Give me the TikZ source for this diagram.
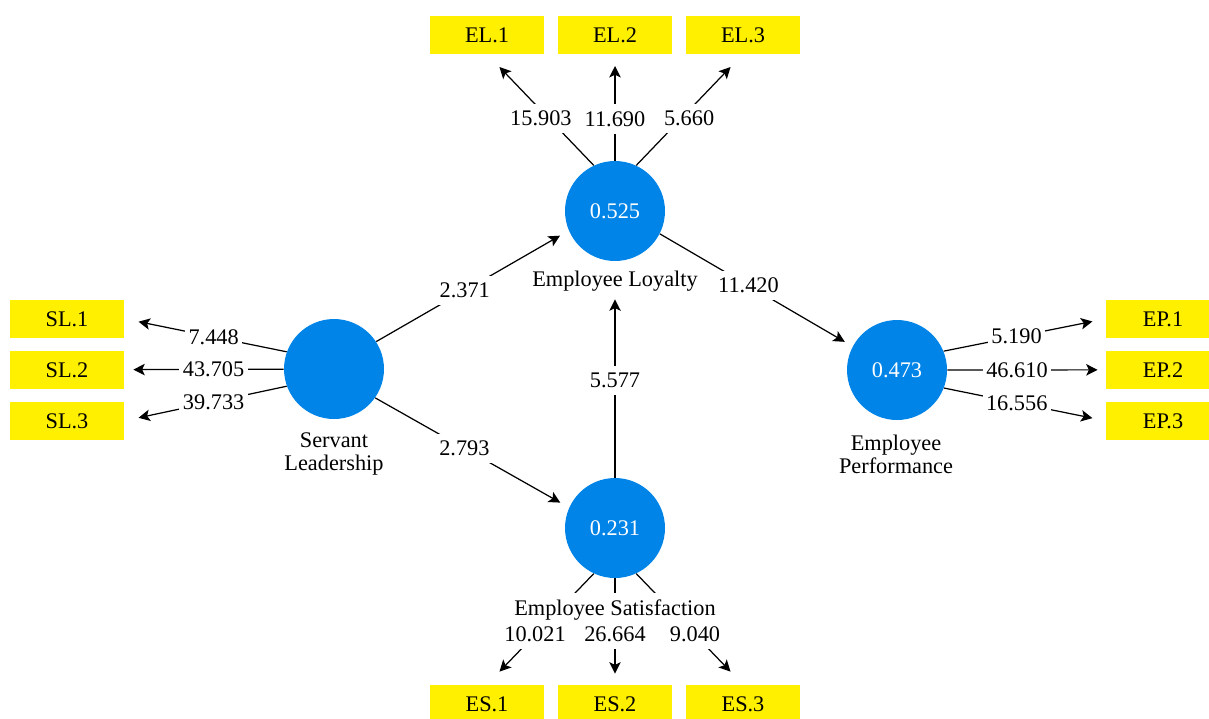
\documentclass[tikz,border=0pt]{standalone}
\usepackage{fontspec}
\setmainfont{Liberation Serif}
\usepackage{xcolor}
\usetikzlibrary{arrows.meta}
\definecolor{plsblue}{RGB}{0,132,232}
\definecolor{plsyellow}{RGB}{255,240,0}

\begin{document}
\begin{tikzpicture}[x=0.02cm, y=-0.02cm, font=\fontsize{12.7}{13.2}\selectfont,
	lv/.style={circle, fill=plsblue, minimum size=2cm, inner sep=0pt, text=white},
	mv/.style={rectangle, fill=plsyellow, minimum width=2.28cm, minimum height=0.754cm, inner sep=0pt},
	lbl/.style={fill=white, inner xsep=2pt, inner ysep=4pt},
	lvname/.style={fill=white, inner xsep=1pt, inner ysep=4pt, align=center},
	pth/.style={line width=0.7pt, -{Stealth[length=6.5pt, width=6.5pt, inset=1.5pt]}}]
	\useasboundingbox (0,0) rectangle (1209,718);
	\clip (0,0) rectangle (1209,718);
	% latent variables
	\node[lv] (el) at (615,211) {0.525};
	\node[lv] (sl) at (334,369) {};
	\node[lv] (ep) at (897,370) {0.473};
	\node[lv] (es) at (615,528) {0.231};
	% indicators
	\node[mv] (el1) at (487,34.8) {EL.1};
	\node[mv] (el2) at (615,34.8) {EL.2};
	\node[mv] (el3) at (743,34.8) {EL.3};
	\node[mv] (sl1) at (67,318.8) {SL.1};
	\node[mv] (sl2) at (67,369.8) {SL.2};
	\node[mv] (sl3) at (67,420.8) {SL.3};
	\node[mv] (ep1) at (1163,318.8) {EP.1};
	\node[mv] (ep2) at (1163,369.8) {EP.2};
	\node[mv] (ep3) at (1163,420.8) {EP.3};
	\node[mv] (es1) at (487,703.8) {ES.1};
	\node[mv] (es2) at (615,703.8) {ES.2};
	\node[mv] (es3) at (743,703.8) {ES.3};
	% outer loadings
	\draw[pth, shorten >=0.36cm] (el.115) -- (el1.south) node[lbl, pos=0.42, xshift=-0.16cm] {15.903};
	\draw[pth, shorten >=0.24cm] (el) -- (el2) node[lbl, pos=0.39] {11.690};
	\draw[pth, shorten >=0.36cm] (el.65) -- (el3.south) node[lbl, pos=0.42, xshift=0.16cm] {5.660};
	\draw[pth, shorten >=0.29cm] (sl.160) -- (sl1.east) node[lbl, pos=0.45] {7.448};
	\draw[pth, shorten >=0.18cm] (sl) -- (sl2) node[lbl, pos=0.44] {43.705};
	\draw[pth, shorten >=0.29cm] (sl.200) -- (sl3.east) node[lbl, pos=0.45] {39.733};
	\draw[pth, shorten >=0.27cm] (ep.22) -- (ep1.west) node[lbl, pos=0.45] {5.190};
	\draw[pth, shorten >=0.16cm] (ep) -- (ep2) node[lbl, pos=0.44] {46.610};
	\draw[pth, shorten >=0.27cm] (ep.-21) -- (ep3.west) node[lbl, pos=0.45] {16.556};
	\draw[pth, shorten >=0.36cm] (es.245) -- (es1.north) node[lbl, pos=0.55] {10.021};
	\draw[pth, shorten >=0.22cm] (es) -- (es2) node[lbl, pos=0.53] {26.664};
	\draw[pth, shorten >=0.36cm] (es.-65) -- (es3.north) node[lbl, pos=0.55] {9.040};
	% inner paths
	\draw[pth, shorten >=0.2cm] (sl.33) -- (el.203) node[lbl, pos=0.46] {2.371};
	\draw[pth, shorten >=0.2cm] (sl.-35) -- (es.156) node[lbl, pos=0.46] {2.793};
	\draw[pth, shorten >=0.18cm] (el.-27) -- (ep.152) node[lbl, pos=0.46] {11.420};
	\draw[pth, shorten >=0.76cm] (es) -- (el) node[lbl, pos=0.45] {5.577};
	% construct names
	\node[lvname] (sllbl) at (334,454) {Servant\\Leadership};
	\node[lvname] (ellbl) at (615,281) {Employee Loyalty};
	\node[lvname] (eplbl) at (896,454) {Employee\\Performance};
	\node[lvname, inner ysep=1pt, text height=11.5pt, anchor=base] (eslbl) at (615,615) {Employee Satisfaction};
\end{tikzpicture}
\end{document}
